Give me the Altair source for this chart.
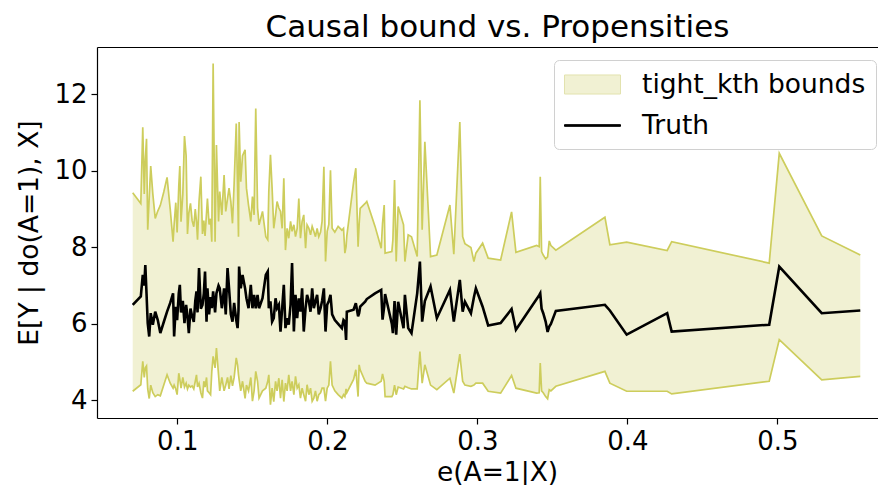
import altair as alt
import pandas as pd

x_prop = [0.0703, 0.0757, 0.0770, 0.0780, 0.0787, 0.0795, 0.0803, 0.0813, 0.0823, 0.0837,
          0.0853, 0.0870, 0.0887, 0.0910, 0.0932, 0.0953, 0.0972, 0.0979, 0.0990, 0.0999,
          0.1010, 0.1017, 0.1025, 0.1037, 0.1048, 0.1059, 0.1068, 0.1077, 0.1088, 0.1099,
          0.1110, 0.1120, 0.1128, 0.1135, 0.1145, 0.1157, 0.1168, 0.1177, 0.1185, 0.1195,
          0.1201, 0.1212, 0.1222, 0.1230, 0.1239, 0.1252, 0.1261, 0.1275, 0.1283, 0.1297,
          0.1312, 0.1323, 0.1335, 0.1345, 0.1357, 0.1368, 0.1379, 0.1393, 0.1402, 0.1408,
          0.1412, 0.1423, 0.1435, 0.1452, 0.1461, 0.1475, 0.1490, 0.1501, 0.1512, 0.1523,
          0.1535, 0.1545, 0.1568, 0.1590, 0.1603, 0.1610, 0.1621, 0.1632, 0.1643, 0.1655,
          0.1665, 0.1677, 0.1688, 0.1699, 0.1710, 0.1721, 0.1732, 0.1743, 0.1755, 0.1765,
          0.1777, 0.1788, 0.1799, 0.1810, 0.1821, 0.1832, 0.1843, 0.1855, 0.1865, 0.1877,
          0.1888, 0.1899, 0.1910, 0.1921, 0.1932, 0.1943, 0.1955, 0.1965, 0.1977, 0.1988,
          0.1999, 0.2010, 0.2021, 0.2032, 0.2050, 0.2072, 0.2097, 0.2108, 0.2117, 0.2125,
          0.2130, 0.2175, 0.2190, 0.2205, 0.2212, 0.2219, 0.2252, 0.2263, 0.2318, 0.2359,
          0.2368, 0.2379, 0.2385, 0.2430, 0.2437, 0.2448, 0.2459, 0.2472, 0.2508, 0.2517,
          0.2539, 0.2561, 0.2599, 0.2617, 0.2632, 0.2650, 0.2688, 0.2730, 0.2817, 0.2843,
          0.2883, 0.2902, 0.2917, 0.2957, 0.2977, 0.2990, 0.3035, 0.3072, 0.3155, 0.3228,
          0.3257, 0.3395, 0.3412, 0.3419, 0.3428, 0.3439, 0.3455, 0.3468, 0.3479, 0.3490,
          0.3523, 0.3850, 0.3883, 0.3995, 0.4265, 0.4295, 0.4945, 0.5012, 0.5295, 0.5552]

upper = [9.43, 9.15, 11.14, 9.40, 10.30, 10.84, 8.46, 9.30, 10.13, 9.40,
         8.76, 8.95, 9.10, 9.45, 9.83, 9.00, 8.15, 8.60, 9.17, 8.39,
         9.60, 10.13, 8.67, 9.40, 10.91, 10.40, 8.35, 8.90, 9.15, 8.70,
         8.54, 9.00, 8.67, 8.20, 9.20, 9.85, 8.35, 8.70, 8.30, 8.90,
         9.28, 8.60, 8.75, 8.15, 12.81, 8.15, 10.68, 8.68, 9.46, 8.85,
         9.89, 8.94, 9.28, 9.55, 9.20, 8.63, 9.68, 11.24, 9.55, 8.28,
         11.28, 9.72, 10.40, 10.55, 9.55, 9.10, 8.68, 9.33, 8.85, 11.63,
         9.03, 8.59, 8.94, 8.28, 8.20, 9.46, 10.42, 9.55, 8.50, 8.85,
         9.20, 9.03, 8.94, 8.50, 9.81, 7.93, 8.50, 8.24, 8.68, 8.42,
         8.59, 8.28, 8.50, 9.28, 8.24, 8.68, 8.85, 7.98, 8.59, 8.50,
         8.33, 8.55, 8.42, 8.28, 8.50, 8.28, 8.40, 8.68, 10.11, 7.63,
         8.42, 8.60, 10.02, 8.50, 8.40, 8.55, 8.45, 8.50, 7.85, 8.02,
         8.30, 9.70, 10.07, 8.02, 8.60, 9.02, 9.15, 9.20, 8.55, 7.98,
         8.63, 9.11, 7.85, 7.89, 8.20, 9.76, 7.63, 9.07, 8.59, 7.63,
         8.33, 8.28, 7.76, 11.85, 8.46, 10.76, 7.76, 7.80, 9.11, 7.82,
         11.28, 8.28, 8.10, 8.00, 7.63, 7.85, 8.11, 7.72, 7.67, 8.93,
         7.87, 8.05, 8.02, 9.85, 7.89, 7.80, 7.70, 7.75, 8.17, 8.05,
         7.93, 8.79, 8.07, 8.14, 7.92, 8.15, 7.59, 10.46, 8.30, 7.80]

truth = [6.50, 6.72, 7.28, 7.00, 7.54, 6.80, 6.02, 5.67, 6.28, 5.98,
         6.32, 6.10, 5.76, 6.05, 6.32, 6.55, 6.80, 5.67, 6.45, 6.10,
         6.80, 7.02, 6.30, 6.60, 6.02, 6.50, 6.20, 5.76, 6.40, 6.20,
         6.05, 6.60, 6.85, 6.30, 7.46, 6.40, 6.50, 6.80, 7.37, 6.06,
         6.93, 6.25, 6.70, 6.41, 6.85, 6.30, 6.80, 7.00, 6.93, 6.41,
         6.93, 6.25, 7.46, 6.93, 6.25, 6.06, 6.55, 6.10, 5.89, 6.35,
         7.50, 6.93, 7.28, 6.93, 6.67, 6.41, 7.02, 6.41, 6.76, 6.41,
         6.76, 6.41, 6.67, 7.28, 7.37, 6.41, 6.59, 6.06, 6.15, 6.67,
         6.41, 6.50, 5.80, 6.41, 7.02, 5.89, 6.15, 5.98, 6.50, 7.59,
         5.80, 6.76, 6.15, 6.67, 6.32, 6.93, 5.80, 6.41, 6.76, 6.59,
         6.32, 6.93, 6.41, 6.59, 6.76, 6.25, 6.41, 6.60, 6.93, 5.80,
         6.50, 6.60, 6.76, 6.25, 6.10, 6.00, 5.89, 6.10, 6.06, 5.58,
         6.32, 6.37, 6.54, 6.20, 6.28, 6.45, 6.58, 6.65, 6.80, 6.89,
         6.11, 6.45, 6.78, 6.00, 5.76, 6.60, 5.72, 6.58, 5.89, 6.76,
         5.89, 5.76, 6.80, 7.63, 6.06, 6.60, 6.98, 6.15, 6.89, 6.06,
         7.15, 6.32, 6.58, 6.28, 6.70, 6.93, 6.45, 5.96, 6.02, 6.39,
         5.85, 6.65, 6.75, 6.80, 6.40, 6.28, 6.06, 5.79, 5.93, 6.00,
         6.34, 6.50, 6.35, 5.72, 6.28, 5.80, 5.98, 7.50, 6.28, 6.35]

lower = [4.24, 4.41, 5.02, 4.60, 4.85, 4.90, 4.30, 4.05, 4.40, 4.20,
         4.10, 4.15, 4.12, 4.40, 4.67, 4.45, 4.32, 4.40, 4.30, 4.15,
         4.71, 4.55, 4.32, 4.60, 4.35, 4.45, 4.30, 4.40, 4.35, 4.38,
         4.30, 4.50, 4.67, 4.35, 4.45, 4.20, 4.06, 4.50, 4.35, 4.60,
         4.25, 4.20, 4.15, 4.75, 5.15, 4.85, 5.37, 4.67, 4.25, 4.60,
         4.25, 4.40, 4.60, 4.30, 4.65, 4.38, 4.60, 5.11, 4.92, 4.67,
         4.55, 4.25, 4.50, 4.05, 4.40, 4.25, 4.60, 3.98, 4.25, 4.76,
         4.50, 4.06, 4.25, 4.32, 4.50, 4.67, 3.89, 4.32, 3.97, 4.50,
         4.25, 4.58, 4.06, 4.54, 3.97, 4.45, 4.25, 4.67, 4.25, 4.50,
         4.15, 4.63, 4.32, 4.41, 4.06, 4.32, 4.15, 3.98, 4.41, 4.15,
         4.32, 3.98, 4.06, 4.25, 3.98, 4.15, 4.20, 4.32, 4.32, 3.98,
         4.32, 4.40, 5.02, 4.40, 4.25, 4.15, 4.06, 4.15, 4.10, 4.30,
         4.20, 4.55, 4.80, 4.10, 4.93, 4.80, 4.50, 4.45, 4.40, 4.50,
         4.69, 4.50, 4.10, 4.10, 4.15, 4.40, 4.15, 4.35, 4.30, 4.37,
         4.33, 4.30, 4.30, 5.28, 4.45, 4.93, 4.40, 4.28, 4.58, 4.19,
         5.21, 4.50, 4.40, 4.37, 4.40, 4.45, 4.45, 4.24, 4.19, 4.65,
         4.32, 4.19, 4.20, 4.98, 4.25, 4.20, 4.10, 4.04, 4.28, 4.25,
         4.37, 4.76, 4.45, 4.24, 4.24, 4.17, 4.50, 5.59, 4.54, 4.63]

series_names = ["tight_kth bounds", "Truth"]
x_ticks = [0.1, 0.2, 0.3, 0.4, 0.5]
y_ticks = [4, 6, 8, 10, 12]

df = pd.DataFrame({"x": x_prop, "upper": upper, "truth": truth, "lower": lower})
leg_df = pd.DataFrame({"series": series_names})

FONT = "DejaVu Sans"
OLIVE_FILL = "#f1f1d3"
OLIVE_LINE = "#cdcd5c"

xscale = alt.Scale(domain=[0.0465, 0.567], nice=False, zero=False)
yscale = alt.Scale(domain=[3.54, 13.24], nice=False, zero=False)

x_bottom = alt.Axis(values=x_ticks, format=".1f", title="e(A=1|X)", orient="bottom",
                    titleX=400, titleY=62, titleBaseline="alphabetic")
y_left = alt.Axis(values=y_ticks, format="d", title="E[Y | do(A=1), X]", titlePadding=10)

area = alt.Chart(df).mark_area(color=OLIVE_FILL, opacity=1).encode(
    x=alt.X("x:Q", scale=xscale, axis=x_bottom),
    y=alt.Y("upper:Q", scale=yscale, axis=y_left),
    y2="lower:Q",
)

up_line = alt.Chart(df).mark_line(color=OLIVE_LINE, strokeWidth=1.7).encode(
    x=alt.X("x:Q", scale=xscale, axis=None),
    y=alt.Y("upper:Q", scale=yscale, axis=y_left),
)
lo_line = alt.Chart(df).mark_line(color=OLIVE_LINE, strokeWidth=1.7).encode(
    x=alt.X("x:Q", scale=xscale, axis=None),
    y=alt.Y("lower:Q", scale=yscale, axis=y_left),
)
truth_line = alt.Chart(df).mark_line(color="black", strokeWidth=2.6).encode(
    x=alt.X("x:Q", scale=xscale,
            axis=alt.Axis(orient="top", labels=False, ticks=False, title=None, domain=True)),
    y=alt.Y("truth:Q", scale=yscale, axis=y_left),
)

legend = alt.Legend(
    title=None, orient="none", legendX=457, legendY=13,
    strokeColor="#d0d0d0", fillColor="white", cornerRadius=5, padding=10,
    labelFont=FONT, labelFontSize=26.5, labelColor="black", labelOffset=35, labelLimit=0,
    symbolSize=784, symbolStrokeWidth=1, symbolOpacity=1, symbolOffset=14,
    rowPadding=13,
)
rect_path = "M-2,-0.68H2V0.68H-2Z"
line_path = "M-2,-0.06H2V0.06H-2Z"
legend_pts = alt.Chart(leg_df).mark_point(filled=True, opacity=0).encode(
    fill=alt.Fill("series:N", scale=alt.Scale(domain=series_names, range=[OLIVE_FILL, "black"]),
                  legend=legend),
    stroke=alt.Stroke("series:N", scale=alt.Scale(domain=series_names, range=["#e2e2ae", "black"]),
                      legend=legend),
    shape=alt.Shape("series:N", scale=alt.Scale(domain=series_names, range=[rect_path, line_path]),
                    legend=legend),
)

chart = alt.layer(area, up_line, lo_line, truth_line, legend_pts).resolve_axis(
    x="independent"
).properties(
    width=781, height=371,
    autosize="none",
    padding={"left": 89, "top": 39, "right": 0, "bottom": 67},
    title=alt.Title("Causal bound vs. Propensities", font=FONT, fontSize=31,
                    fontWeight="normal", color="black", anchor="middle", dx=10, offset=3),
).configure_view(stroke=None).configure_axis(
    labelFont=FONT, labelFontSize=26, labelColor="black",
    titleFont=FONT, titleFontSize=26.5, titleFontWeight="normal", titleColor="black",
    grid=False, tickSize=6, tickWidth=1.2, tickColor="black",
    domainColor="black", domainWidth=1.2, labelPadding=4,
)

chart.save("out.html", embed_options={"renderer": "svg", "actions": False})
